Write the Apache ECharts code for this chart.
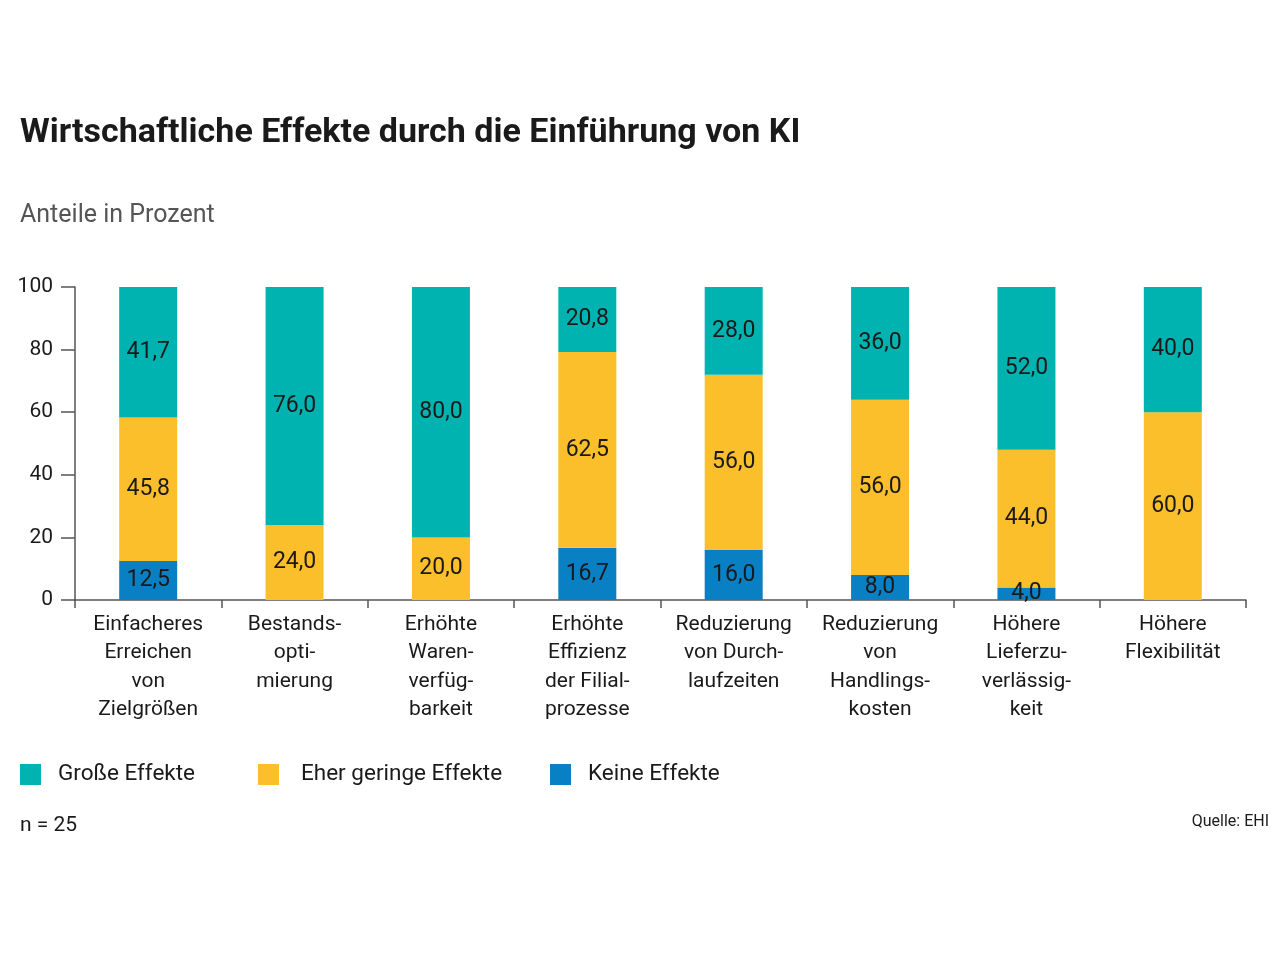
<!DOCTYPE html>
<html>
<head>
<meta charset="utf-8">
<script src="https://cdn.jsdelivr.net/npm/echarts@6/dist/echarts.min.js"></script>
<style>
  html, body { margin: 0; padding: 0; background: #fff; }
  #chart { width: 1280px; height: 964px; }
</style>
</head>
<body>
<div id="chart"></div>
<script>
// Kategorien und Werte (Anteile in Prozent)
var categories = [
  'Einfacheres\nErreichen\nvon\nZielgrößen',
  'Bestands-\nopti-\nmierung',
  'Erhöhte\nWaren-\nverfüg-\nbarkeit',
  'Erhöhte\nEffizienz\nder Filial-\nprozesse',
  'Reduzierung\nvon Durch-\nlaufzeiten',
  'Reduzierung\nvon\nHandlings-\nkosten',
  'Höhere\nLieferzu-\nverlässig-\nkeit',
  'Höhere\nFlexibilität'
];
var keineEffekte = [12.5, 0, 0, 16.7, 16.0, 8.0, 4.0, 0];
var geringeEffekte = [45.8, 24.0, 20.0, 62.5, 56.0, 56.0, 44.0, 60.0];
var grosseEffekte = [41.7, 76.0, 80.0, 20.8, 28.0, 36.0, 52.0, 40.0];
var yTicks = [0, 20, 40, 60, 80, 100];
var seriesNames = ['Große Effekte', 'Eher geringe Effekte', 'Keine Effekte'];

var FONT = 'Roboto, "Noto Sans", sans-serif';
var colors = { gross: '#00b3b1', gering: '#fcbf2c', keine: '#0a80c4' };

function fmt(v) {
  return v.toFixed(1).replace('.', ',');
}

var barLabel = {
  show: true,
  position: 'inside',
  color: '#1a1a1a',
  fontFamily: FONT,
  fontSize: 23,
  formatter: function (p) { return p.value > 0 ? fmt(p.value) : ''; }
};

// eine Legende je Eintrag, damit die Abstände wie im Original sitzen
var legendLeft = [20, 258, 550];
var legends = seriesNames.map(function (name, i) {
  return {
    left: legendLeft[i], top: 763, padding: 0,
    itemWidth: 21, itemHeight: 21,
    icon: 'rect',
    textStyle: { fontFamily: FONT, fontSize: 22.5, color: '#1a1a1a', padding: [0, 0, 0, i === 1 ? 17 : 12] },
    data: [name]
  };
});

var chart = echarts.init(document.getElementById('chart'));

chart.setOption({
  backgroundColor: '#fff',
  animation: false,
  title: [
    {
      text: 'Wirtschaftliche Effekte durch die Einführung von KI',
      left: 20, top: 116, padding: 0,
      textStyle: { fontFamily: FONT, fontSize: 34, fontWeight: 'bold', color: '#1a1a1a' }
    },
    {
      text: 'Anteile in Prozent',
      left: 20, top: 203, padding: 0,
      textStyle: { fontFamily: FONT, fontSize: 25, fontWeight: 'normal', color: '#555' }
    },
    {
      text: 'n = 25',
      left: 20, top: 815, padding: 0,
      textStyle: { fontFamily: FONT, fontSize: 21, fontWeight: 'normal', color: '#1a1a1a' }
    },
    {
      text: 'Quelle: EHI',
      right: 11, top: 814, padding: 0,
      textStyle: { fontFamily: FONT, fontSize: 16, fontWeight: 'normal', color: '#1a1a1a' }
    }
  ],
  legend: legends,
  grid: { left: 75, right: 34, top: 287, bottom: 364 },
  xAxis: {
    type: 'category',
    data: categories,
    axisLine: { lineStyle: { color: '#555', width: 1.5 } },
    axisTick: { show: true, length: 8, lineStyle: { color: '#555', width: 1.5 } },
    axisLabel: {
      interval: 0,
      margin: 10,
      fontFamily: FONT,
      fontSize: 21,
      lineHeight: 28.5,
      color: '#1a1a1a'
    }
  },
  yAxis: {
    type: 'value',
    min: yTicks[0],
    max: yTicks[yTicks.length - 1],
    interval: 20,
    axisLine: { show: true, lineStyle: { color: '#555', width: 1.5 } },
    axisTick: { show: true, length: 14, lineStyle: { color: '#555', width: 1.5 } },
    splitLine: { show: false },
    axisLabel: {
      margin: 22,
      fontFamily: FONT,
      fontSize: 21,
      color: '#1a1a1a'
    }
  },
  series: [
    {
      name: seriesNames[2], type: 'bar', stack: 'total',
      data: keineEffekte, barWidth: 58,
      itemStyle: { color: colors.keine },
      label: barLabel
    },
    {
      name: seriesNames[1], type: 'bar', stack: 'total',
      data: geringeEffekte, barWidth: 58,
      itemStyle: { color: colors.gering },
      label: barLabel
    },
    {
      name: seriesNames[0], type: 'bar', stack: 'total',
      data: grosseEffekte, barWidth: 58,
      itemStyle: { color: colors.gross },
      label: barLabel
    }
  ]
});
</script>
</body>
</html>
